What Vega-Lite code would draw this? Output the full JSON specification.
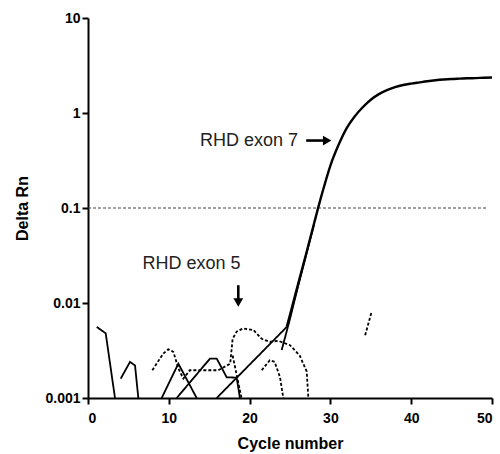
{
  "$schema": "https://vega.github.io/schema/vega-lite/v6.json",
  "width": 404,
  "height": 380,
  "autosize": "none",
  "padding": {"left": 88, "top": 18, "right": 8, "bottom": 56},
  "background": "white",
  "view": {"stroke": null},
  "config": {
    "font": "Liberation Sans",
    "axis": {
      "domainColor": "black", "domainWidth": 2, "tickColor": "black", "tickWidth": 2, "tickSize": 6,
      "labelColor": "black", "labelFont": "Liberation Sans", "labelFontWeight": "bold", "labelFontSize": 14,
      "titleColor": "black", "titleFont": "Liberation Sans", "titleFontWeight": "bold", "titleFontSize": 16,
      "grid": false
    }
  },
  "datasets": {
    "curves": [
      {"s": "S1", "style": "solid", "x": 1.08, "y": 0.0056},
      {"s": "S1", "style": "solid", "x": 2.19, "y": 0.0048},
      {"s": "S1", "style": "solid", "x": 3.34, "y": 0.001},
      {"s": "S2", "style": "solid", "x": 4.05, "y": 0.0016},
      {"s": "S2", "style": "solid", "x": 5.2, "y": 0.0024},
      {"s": "S2", "style": "solid", "x": 5.82, "y": 0.0022},
      {"s": "S2", "style": "solid", "x": 6.23, "y": 0.001},
      {"s": "S3", "style": "solid", "x": 9.12, "y": 0.001},
      {"s": "S3", "style": "solid", "x": 11.18, "y": 0.0023},
      {"s": "S3", "style": "solid", "x": 13.45, "y": 0.001},
      {"s": "S4", "style": "solid", "x": 10.98, "y": 0.001},
      {"s": "S4", "style": "solid", "x": 15.1, "y": 0.0026},
      {"s": "S4", "style": "solid", "x": 15.93, "y": 0.0026},
      {"s": "S4", "style": "solid", "x": 17.17, "y": 0.00165},
      {"s": "S4", "style": "solid", "x": 18.4, "y": 0.00164},
      {"s": "S4", "style": "solid", "x": 18.8, "y": 0.001},
      {"s": "S5", "style": "solid", "x": 15.93, "y": 0.001},
      {"s": "S5", "style": "solid", "x": 24.6, "y": 0.0056},
      {"s": "S6", "style": "solid", "x": 23.97, "y": 0.0032},
      {"s": "S6", "style": "solid", "x": 25, "y": 0.0068},
      {"s": "S6", "style": "solid", "x": 26, "y": 0.015},
      {"s": "S6", "style": "solid", "x": 27, "y": 0.032},
      {"s": "S6", "style": "solid", "x": 28, "y": 0.068},
      {"s": "D1", "style": "dashed", "x": 7.96, "y": 0.00196},
      {"s": "D1", "style": "dashed", "x": 9.32, "y": 0.00294},
      {"s": "D1", "style": "dashed", "x": 9.94, "y": 0.00326},
      {"s": "D1", "style": "dashed", "x": 10.56, "y": 0.00306},
      {"s": "D1", "style": "dashed", "x": 11.2, "y": 0.00204},
      {"s": "D1", "style": "dashed", "x": 11.8, "y": 0.0016},
      {"s": "D1", "style": "dashed", "x": 12.6, "y": 0.00196},
      {"s": "D1", "style": "dashed", "x": 16.13, "y": 0.00196},
      {"s": "D1", "style": "dashed", "x": 17.6, "y": 0.0023},
      {"s": "D1", "style": "dashed", "x": 17.9, "y": 0.0042},
      {"s": "D1", "style": "dashed", "x": 18.4, "y": 0.005},
      {"s": "D1", "style": "dashed", "x": 19.2, "y": 0.0054},
      {"s": "D1", "style": "dashed", "x": 20.46, "y": 0.0052},
      {"s": "D1", "style": "dashed", "x": 21.5, "y": 0.0042},
      {"s": "D1", "style": "dashed", "x": 22.5, "y": 0.0039},
      {"s": "D1", "style": "dashed", "x": 23.55, "y": 0.004},
      {"s": "D1", "style": "dashed", "x": 25.0, "y": 0.0036},
      {"s": "D1", "style": "dashed", "x": 26.2, "y": 0.0028},
      {"s": "D1", "style": "dashed", "x": 27.07, "y": 0.0019},
      {"s": "D1", "style": "dashed", "x": 27.27, "y": 0.001},
      {"s": "D3", "style": "dashed", "x": 17.9, "y": 0.0028},
      {"s": "D3", "style": "dashed", "x": 19.0, "y": 0.001},
      {"s": "D4", "style": "dashed", "x": 21.5, "y": 0.00196},
      {"s": "D4", "style": "dashed", "x": 22.5, "y": 0.0025},
      {"s": "D4", "style": "dashed", "x": 23.1, "y": 0.0024},
      {"s": "D4", "style": "dashed", "x": 23.76, "y": 0.00166},
      {"s": "D4", "style": "dashed", "x": 24.17, "y": 0.001},
      {"s": "D5", "style": "dashed", "x": 34.3, "y": 0.00458},
      {"s": "D5", "style": "dashed", "x": 35.1, "y": 0.00807}
    ],
    "main": [
      {"x": 24.6, "y": 0.0056},
      {"x": 25, "y": 0.0075},
      {"x": 26, "y": 0.0158},
      {"x": 27, "y": 0.033},
      {"x": 28, "y": 0.07},
      {"x": 29, "y": 0.145},
      {"x": 30, "y": 0.28},
      {"x": 31, "y": 0.46},
      {"x": 32, "y": 0.69},
      {"x": 33, "y": 0.92},
      {"x": 34, "y": 1.15},
      {"x": 35, "y": 1.38},
      {"x": 36, "y": 1.58},
      {"x": 37, "y": 1.74},
      {"x": 38, "y": 1.87},
      {"x": 39, "y": 1.97},
      {"x": 40, "y": 2.04},
      {"x": 41, "y": 2.1},
      {"x": 42, "y": 2.16},
      {"x": 43, "y": 2.21},
      {"x": 44, "y": 2.25},
      {"x": 45, "y": 2.28},
      {"x": 46, "y": 2.3},
      {"x": 47, "y": 2.32},
      {"x": 48, "y": 2.33},
      {"x": 49, "y": 2.35},
      {"x": 50, "y": 2.36}
    ],
    "threshold": [{"x": 0, "x2": 49.3, "y": 0.1}],
    "label7": [{"text": "RHD exon 7", "x": 26.0, "y": 0.513}],
    "label5": [{"text": "RHD exon 5", "x": 12.8, "y": 0.0257}],
    "shafts": [
      {"x": 27.0, "x2": 29.3, "y": 0.513, "y2": 0.513},
      {"x": 18.6, "x2": 18.6, "y": 0.0154, "y2": 0.0108}
    ],
    "heads": [
      {"x": 29.6, "y": 0.513, "shape": "triangle-right"},
      {"x": 18.6, "y": 0.0101, "shape": "triangle-down"}
    ]
  },
  "layer": [
    {
      "data": {"name": "threshold"},
      "mark": {"type": "rule", "color": "#444", "strokeWidth": 1, "strokeDash": [3, 2]},
      "encoding": {
        "x": {"field": "x", "type": "quantitative", "scale": {"domain": [0, 50], "nice": false},
              "axis": {"values": [0, 10, 20, 30, 40, 50], "title": "Cycle number", "labelPadding": 7, "titlePadding": 10}},
        "x2": {"field": "x2"},
        "y": {"field": "y", "type": "quantitative", "scale": {"type": "log", "domain": [0.001, 10], "nice": false},
              "axis": {"values": [0.001, 0.01, 0.1, 1, 10], "format": "~g", "title": "Delta Rn", "labelPadding": 2, "titlePadding": 14}}
      }
    },
    {
      "data": {"name": "curves"},
      "mark": {"type": "line", "color": "black", "strokeWidth": 1.8},
      "encoding": {
        "x": {"field": "x", "type": "quantitative"},
        "y": {"field": "y", "type": "quantitative"},
        "detail": {"field": "s"},
        "strokeDash": {"field": "style", "type": "nominal", "scale": {"domain": ["solid", "dashed"], "range": [[1, 0], [3, 2]]}, "legend": null}
      }
    },
    {
      "data": {"name": "main"},
      "mark": {"type": "line", "color": "black", "strokeWidth": 2.4, "interpolate": "monotone"},
      "encoding": {
        "x": {"field": "x", "type": "quantitative"},
        "y": {"field": "y", "type": "quantitative"}
      }
    },
    {
      "data": {"name": "shafts"},
      "mark": {"type": "rule", "color": "black", "strokeWidth": 2.6},
      "encoding": {
        "x": {"field": "x", "type": "quantitative"},
        "x2": {"field": "x2"},
        "y": {"field": "y", "type": "quantitative"},
        "y2": {"field": "y2"}
      }
    },
    {
      "data": {"name": "heads"},
      "mark": {"type": "point", "filled": true, "color": "black", "size": 95, "opacity": 1},
      "encoding": {
        "x": {"field": "x", "type": "quantitative"},
        "y": {"field": "y", "type": "quantitative"},
        "shape": {"field": "shape", "type": "nominal", "scale": null}
      }
    },
    {
      "data": {"name": "label7"},
      "mark": {"type": "text", "font": "Liberation Sans", "fontSize": 18, "color": "#222", "baseline": "middle", "align": "right"},
      "encoding": {
        "x": {"field": "x", "type": "quantitative"},
        "y": {"field": "y", "type": "quantitative"},
        "text": {"field": "text"}
      }
    },
    {
      "data": {"name": "label5"},
      "mark": {"type": "text", "font": "Liberation Sans", "fontSize": 18, "color": "#222", "baseline": "middle", "align": "center"},
      "encoding": {
        "x": {"field": "x", "type": "quantitative"},
        "y": {"field": "y", "type": "quantitative"},
        "text": {"field": "text"}
      }
    }
  ]
}
